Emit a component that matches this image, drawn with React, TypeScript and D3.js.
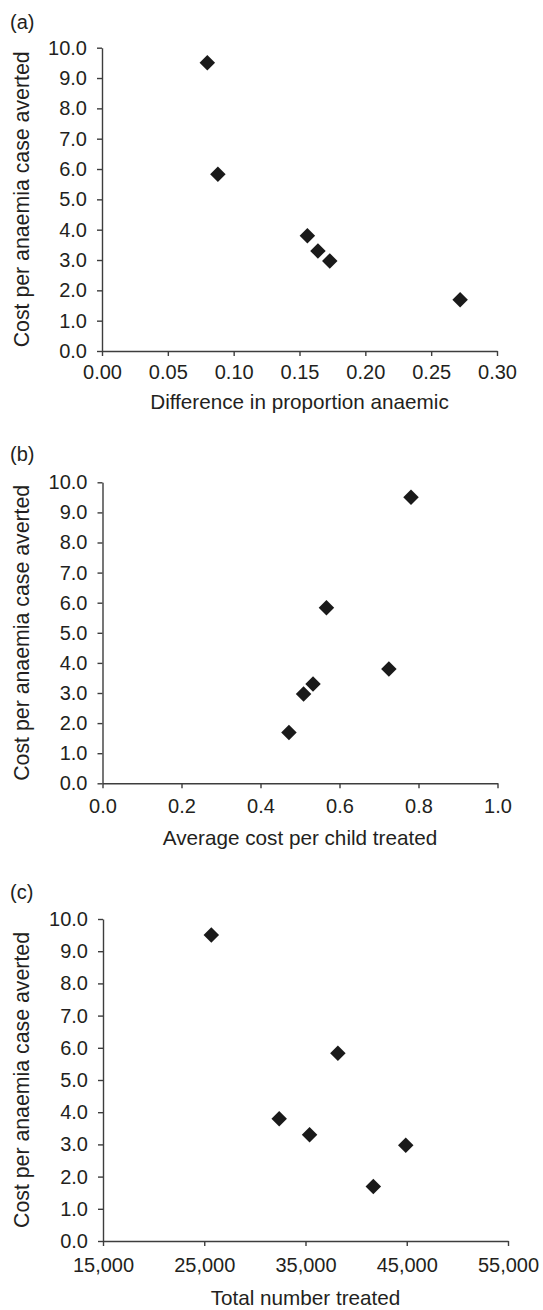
import React, { useEffect, useRef } from "react";
import * as d3 from "d3";

// same six programmes in every panel
const costPerCaseAverted = [9.5, 5.83, 3.8, 3.3, 2.97, 1.69];
const diffProportionAnaemic = [0.08, 0.088, 0.156, 0.164, 0.173, 0.272];
const avgCostPerChild = [0.781, 0.567, 0.725, 0.533, 0.509, 0.472];
const totalTreated = [25700, 38200, 32400, 35400, 44900, 41700];

const yTicks = [0, 1, 2, 3, 4, 5, 6, 7, 8, 9, 10];
const xTicksA = [0, 0.05, 0.1, 0.15, 0.2, 0.25, 0.3];
const xTicksB = [0, 0.2, 0.4, 0.6, 0.8, 1.0];
const xTicksC = [15000, 25000, 35000, 45000, 55000];

const yTitle = "Cost per anaemia case averted";

const FONT = "'Liberation Sans', Arial, Helvetica, sans-serif";
const INK = "#231f20";
const AXIS = "#3d3d3d";

const panels = [
    {
        label: "(a)",
        xs: diffProportionAnaemic,
        xTicks: xTicksA,
        fmt: d3.format(".2f"),
        xTitle: "Difference in proportion anaemic",
        left: 102, right: 497, top: 47.7, bottom: 351,
        labelY: 29, tickGap: 9, titleY: 409,
    },
    {
        label: "(b)",
        xs: avgCostPerChild,
        xTicks: xTicksB,
        fmt: d3.format(".1f"),
        xTitle: "Average cost per child treated",
        left: 102.5, right: 497.5, top: 482.3, bottom: 783.3,
        labelY: 461, tickGap: 11, titleY: 845,
    },
    {
        label: "(c)",
        xs: totalTreated,
        xTicks: xTicksC,
        fmt: d3.format(","),
        xTitle: "Total number treated",
        left: 103, right: 508, top: 919, bottom: 1241,
        labelY: 899, tickGap: 12, titleY: 1305,
    },
];

export default function App() {
    const svgRef = useRef<SVGSVGElement | null>(null);

    useEffect(() => {
        const svg = d3.select(svgRef.current);
        svg.selectAll("*").remove();

        panels.forEach((p) => {
            const x = d3
                .scaleLinear()
                .domain([p.xTicks[0], p.xTicks[p.xTicks.length - 1]])
                .range([p.left, p.right]);
            const y = d3.scaleLinear().domain([0, 10]).range([p.bottom, p.top]);

            const g = svg.append("g");

            // panel letter
            g.append("text")
                .attr("x", 10)
                .attr("y", p.labelY)
                .attr("font-size", 20)
                .attr("fill", INK)
                .text(p.label);

            const yAxis = g
                .append("g")
                .attr("transform", `translate(${p.left},0)`)
                .call(
                    d3
                        .axisLeft(y)
                        .tickValues(yTicks)
                        .tickFormat(d3.format(".1f"))
                        .tickSize(5)
                        .tickSizeOuter(0)
                        .tickPadding(10)
                );

            const xAxis = g
                .append("g")
                .attr("transform", `translate(0,${p.bottom})`)
                .call(
                    d3
                        .axisBottom(x)
                        .tickValues(p.xTicks)
                        .tickFormat(p.fmt as any)
                        .tickSize(5)
                        .tickSizeOuter(0)
                        .tickPadding(p.tickGap)
                );

            [yAxis, xAxis].forEach((ax) => {
                ax.attr("font-family", FONT).attr("font-size", 20);
                ax.select(".domain").attr("stroke", AXIS).attr("stroke-width", 1.4);
                ax.selectAll(".tick line").attr("stroke", AXIS).attr("stroke-width", 1.4);
                ax.selectAll(".tick text").attr("fill", INK);
            });

            // axis titles
            g.append("text")
                .attr("x", (p.left + p.right) / 2)
                .attr("y", p.titleY)
                .attr("text-anchor", "middle")
                .attr("font-size", 20.7)
                .attr("fill", INK)
                .text(p.xTitle);

            g.append("text")
                .attr("transform", `translate(29,${(p.top + p.bottom) / 2}) rotate(-90)`)
                .attr("text-anchor", "middle")
                .attr("font-size", 21.3)
                .attr("fill", INK)
                .text(yTitle);

            // diamonds
            const diamond = d3.symbol(d3.symbolSquare, 120)();
            g.selectAll(".pt")
                .data(p.xs.map((v, i) => ({ x: v, y: costPerCaseAverted[i] })))
                .enter()
                .append("path")
                .attr("class", "pt")
                .attr("d", diamond)
                .attr("transform", (d) => `translate(${x(d.x)},${y(d.y)}) rotate(45)`)
                .attr("fill", "#1a1a1a");
        });
    }, []);

    return (
        <svg
            ref={svgRef}
            width={543}
            height={1310}
            style={{ position: "absolute", left: 0, top: 0, fontFamily: FONT, background: "#fff" }}
        />
    );
}
